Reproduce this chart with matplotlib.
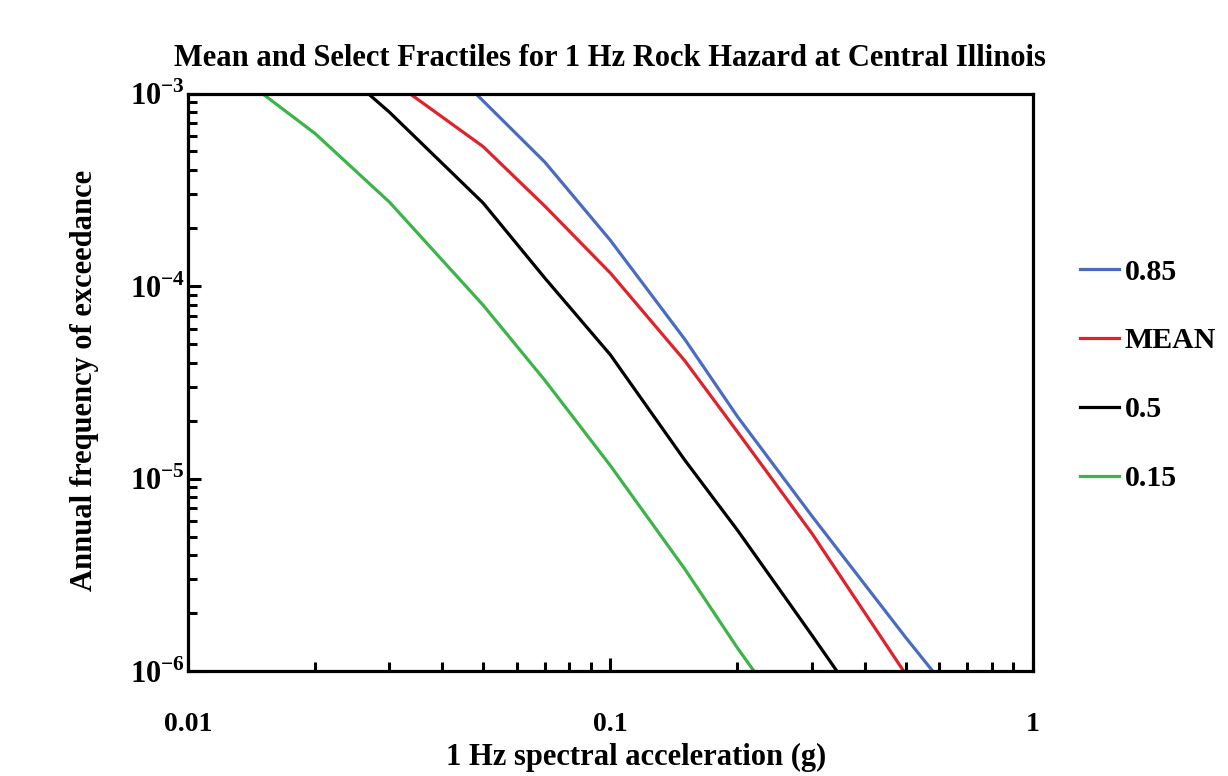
import matplotlib
matplotlib.use('Agg')
import matplotlib.pyplot as plt
from matplotlib.ticker import LogLocator, FixedLocator, NullFormatter

plt.rcParams['font.family'] = ['Liberation Serif', 'DejaVu Serif']
plt.rcParams['font.weight'] = 'bold'
plt.rcParams['mathtext.fontset'] = 'custom'
plt.rcParams['mathtext.rm'] = 'Liberation Serif:bold'
plt.rcParams['mathtext.bf'] = 'Liberation Serif:bold'

# hazard curves: spectral acceleration (g) vs annual frequency
x_85 = [0.048, 0.07, 0.1, 0.15, 0.2, 0.3, 0.5, 0.58]
y_85 = [1.0e-3, 4.4e-4, 1.73e-4, 5.3e-5, 2.1e-5, 6.4e-6, 1.5e-6, 1.0e-6]

x_mean = [0.0335, 0.05, 0.07, 0.1, 0.15, 0.2, 0.3, 0.495]
y_mean = [1.0e-3, 5.3e-4, 2.6e-4, 1.17e-4, 4.1e-5, 1.75e-5, 5.2e-6, 1.0e-6]

x_50 = [0.0267, 0.03, 0.05, 0.07, 0.1, 0.15, 0.2, 0.3, 0.344]
y_50 = [1.0e-3, 8.0e-4, 2.7e-4, 1.1e-4, 4.4e-5, 1.25e-5, 5.4e-6, 1.54e-6, 1.0e-6]

x_15 = [0.015, 0.02, 0.03, 0.05, 0.07, 0.1, 0.15, 0.2, 0.219]
y_15 = [1.0e-3, 6.2e-4, 2.73e-4, 7.96e-5, 3.24e-5, 1.17e-5, 3.4e-6, 1.32e-6, 1.0e-6]

x_ticks = [0.01, 0.1, 1]
x_ticklabels = ['0.01', '0.1', '1']
y_ticks = [1e-6, 1e-5, 1e-4, 1e-3]
y_ticklabels = [r'$10^{-6}$', r'$10^{-5}$', r'$10^{-4}$', r'$10^{-3}$']

fig = plt.figure(figsize=(12.28, 7.76), dpi=100)
ax = fig.add_axes([0.153, 0.135, 0.688, 0.7445])

lw = 2.3
ax.plot(x_85, y_85, color='#4a6cc0', lw=lw, label='0.85')
ax.plot(x_mean, y_mean, color='#e0222b', lw=lw, label='MEAN')
ax.plot(x_50, y_50, color='black', lw=lw, label='0.5')
ax.plot(x_15, y_15, color='#3cb44a', lw=lw, label='0.15')

ax.set_xscale('log')
ax.set_yscale('log')
ax.set_xlim(0.01, 1)
ax.set_ylim(1e-6, 1e-3)

ax.xaxis.set_major_locator(FixedLocator(x_ticks))
ax.set_xticklabels(x_ticklabels)
ax.xaxis.set_minor_locator(LogLocator(base=10, subs=range(2, 10)))
ax.xaxis.set_minor_formatter(NullFormatter())
ax.yaxis.set_major_locator(FixedLocator(y_ticks))
ax.set_yticklabels(y_ticklabels)
ax.yaxis.set_minor_locator(LogLocator(base=10, subs=range(2, 10)))
ax.yaxis.set_minor_formatter(NullFormatter())

ax.tick_params(which='both', direction='in', width=2.2, top=False, right=False)
ax.tick_params(which='major', length=9.5)
ax.tick_params(which='minor', length=6.5)
ax.tick_params(axis='x', which='major', labelsize=20, pad=29)
ax.tick_params(axis='y', which='major', labelsize=22, pad=2)
for s in ax.spines.values():
    s.set_linewidth(2.3)

ax.set_title('Mean and Select Fractiles for 1 Hz Rock Hazard at Central Illinois',
             fontsize=22, fontweight='bold', pad=20)
fig.text(0.518, 0.024, '1 Hz spectral acceleration (g)', ha='center', va='center',
         fontsize=22, fontweight='bold')
fig.text(0.069, 0.51, 'Annual frequency of exceedance', ha='center', va='center',
         rotation=90, fontsize=22, fontweight='bold')

ax.legend(loc='upper left', bbox_to_anchor=(1.042, 0.735), frameon=False,
          fontsize=21.5, handlelength=1.3, handletextpad=0.2, labelspacing=1.4,
          borderaxespad=0)

fig.savefig('out.png', dpi=100)
